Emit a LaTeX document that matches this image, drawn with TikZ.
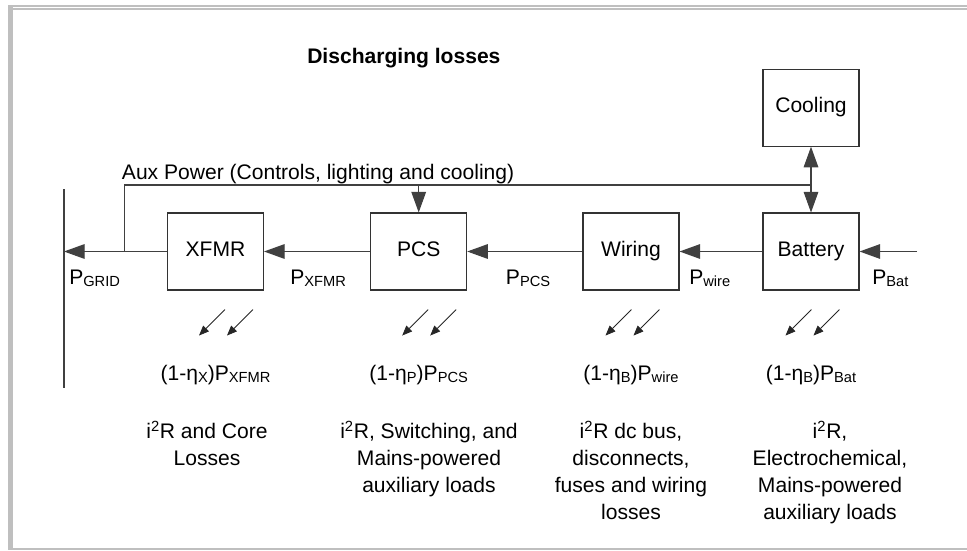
\documentclass[tikz,border=0pt]{standalone}
\usepackage{fontspec}
\setmainfont{Liberation Sans}
\usetikzlibrary{arrows.meta,calc}
\newcommand\sbs[1]{\raisebox{-0.12em}{\fontsize{11pt}{11pt}\selectfont #1}}
\begin{document}
\begin{tikzpicture}[x=0.75pt,y=-0.75pt,
  every node/.style={font=\fontsize{15.8pt}{20.25pt}\selectfont, inner sep=0pt},
  blk/.style={draw=black!80, line width=0.8pt, minimum width=72pt, minimum height=57.75pt, text height=0.9em, text depth=0.184em},
  ln/.style={draw=black!75, line width=0.8pt},
  arr/.style={ln, -{Triangle[length=15.5pt,width=11pt]}},
  lossarr/.style={draw=black!85, line width=0.6pt, -{Triangle[length=7.5pt,width=6pt]}},
  framefill/.style={fill=black!25, draw=none},
  desc/.style={anchor=north, align=center}]
\useasboundingbox (0,0) rectangle (967,550);
% frame
\fill[framefill] (8.3,5) rectangle (12.7,550);
\fill[framefill] (8.3,5) rectangle (967,6.7);
\fill[framefill] (12.7,8.3) rectangle (967,10);
\fill[framefill] (12.7,548.3) rectangle (967,550);
% blocks
\node[blk] (xfmr) at (215.5,251.5) {XFMR};
\node[blk] (pcs) at (418.7,251.5) {PCS};
\node[blk] (wiring) at (631,251.5) {Wiring};
\node[blk] (battery) at (811,251.5) {Battery};
\node[blk] (cooling) at (811,107.7) {Cooling};
% coordinates
\coordinate (gtop) at (64,189);
\coordinate (gbot) at (64,388);
\coordinate (gin) at (64,251.5);
\coordinate (batin) at (917,251.5);
\coordinate (auxbase) at (124.7,251.5);
\coordinate (auxend) at (811,185);
\coordinate (auxpcs) at (418.7,185);
% connectors
\draw[ln] (gtop) -- (gbot);
\draw[arr] (batin) -- (battery);
\draw[arr] (battery) -- (wiring);
\draw[arr] (wiring) -- (pcs);
\draw[arr] (pcs) -- (xfmr);
\draw[arr] (xfmr) -- (gin);
\draw[ln] (auxbase) |- (auxend);
\draw[arr] (auxpcs) -- (pcs);
\draw[arr] (auxend) -- (battery);
\draw[arr] (auxend) -- (cooling);
% labels
\node[anchor=base west, font=\fontsize{15.8pt}{20pt}\selectfont\bfseries] (title) at (307,63) {Discharging losses};
\node[anchor=base west] (auxlbl) at (121.7,179) {Aux Power (Controls, lighting and cooling)};
\node[anchor=base west] (pgrid) at (69,284) {P\sbs{GRID}};
\node[anchor=base west] (pxfmr) at (290,284) {P\sbs{XFMR}};
\node[anchor=base west] (ppcs) at (505.7,284) {P\sbs{PCS}};
\node[anchor=base west] (pwire) at (689,284) {P\sbs{wire}};
\node[anchor=base west] (pbat) at (872,284) {P\sbs{Bat}};
% loss arrows
\foreach \b/\o in {xfmr/9.5, pcs/9.5, wiring/0.5, battery/0.5} {
  \draw[lossarr] ($(\b.south)+(\o,19)$) -- ++(-26,26);
  \draw[lossarr] ($(\b.south)+(\o+28,19)$) -- ++(-26,26);
}
% loss amounts
\node[anchor=base] (lx) at (215.5,380) {(1-η\sbs{X})P\sbs{XFMR}};
\node[anchor=base] (lp) at (418.7,380) {(1-η\sbs{P})P\sbs{PCS}};
\node[anchor=base] (lw) at (631,380) {(1-η\sbs{B})P\sbs{wire}};
\node[anchor=base] (lb) at (811,380) {(1-η\sbs{B})P\sbs{Bat}};
% descriptions
\node[desc] (dx) at (207,421) {i\textsuperscript{2}R and Core\\Losses};
\node[desc] (dp) at (429,421) {i\textsuperscript{2}R, Switching, and\\Mains-powered\\auxiliary loads};
\node[desc] (dw) at (631,421) {i\textsuperscript{2}R dc bus,\\disconnects,\\fuses and wiring\\losses};
\node[desc] (db) at (830,421) {i\textsuperscript{2}R,\\Electrochemical,\\Mains-powered\\auxiliary loads};
\end{tikzpicture}
\end{document}
